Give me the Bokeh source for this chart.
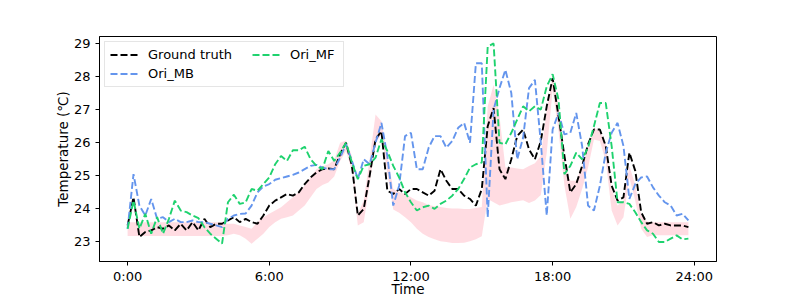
from bokeh.plotting import figure
from bokeh.models import Range1d, FixedTicker, Legend, LegendItem, ColumnDataSource
from bokeh.embed import file_html
from bokeh.resources import INLINE

# time of day in hours, 15-minute sampling
hours = [i / 4 for i in range(96)]

ground_truth = [
    23.5, 24.35, 23.15, 23.3, 23.35, 23.45, 23.4, 23.5, 23.35, 23.55,
    23.35, 23.6, 23.35, 23.7, 23.45, 23.55, 23.55, 23.65, 23.75, 23.6,
    23.7, 23.6, 23.55, 23.8, 24.1, 24.25, 24.35, 24.45, 24.4, 24.5,
    24.75, 24.95, 25.1, 25.2, 25.22, 25.2, 25.65, 26.0, 25.3, 23.8,
    24.0, 25.0, 26.1, 26.35, 24.55, 24.45, 24.6, 24.45, 24.6, 24.6,
    24.5, 24.4, 24.55, 25.2, 24.85, 24.6, 24.6, 24.4, 24.3, 24.1,
    24.6, 26.5, 27.05, 25.2, 24.9, 25.5, 26.2, 26.4, 25.8, 25.5,
    26.05, 27.1, 27.95, 26.8, 25.6, 24.5, 24.75, 25.3, 25.95, 26.4,
    26.4, 25.9, 24.7, 24.25, 24.35, 25.7, 25.15, 23.9, 23.55, 23.6,
    23.5, 23.55, 23.5, 23.5, 23.5, 23.45]

ori_mb = [
    23.4, 25.05, 24.1, 23.8, 24.3, 23.7, 23.75, 23.6, 23.7, 23.6,
    23.6, 23.65, 23.6, 23.6, 23.55, 23.5, 23.45, 23.7, 23.8, 23.85,
    23.86, 24.1, 24.5, 24.68, 24.75, 24.88, 24.93, 24.98, 25.03, 25.1,
    25.2, 25.3, 25.33, 25.25, 25.2, 25.2, 25.55, 25.95, 25.45, 24.9,
    25.5, 25.35, 26.0, 26.6, 25.6, 24.1, 24.7, 26.2, 26.3, 25.2,
    25.2, 25.85, 26.2, 26.2, 25.85, 26.05, 26.45, 26.6, 26.0, 28.4,
    28.4, 23.75, 27.0, 27.65, 28.2, 27.5, 25.5, 26.15, 27.65, 27.9,
    26.0, 23.8, 26.4, 26.9, 26.25, 26.3, 26.9, 25.9, 24.1, 23.95,
    24.7, 25.7, 26.3, 26.6, 25.9, 24.3, 24.75, 24.95, 24.98, 24.65,
    24.4, 24.2, 24.1, 23.8, 23.85, 23.65]

ori_mf = [
    23.4, 24.25, 23.4, 23.85, 23.25, 23.75, 23.25, 23.7, 24.25, 23.95,
    23.9, 23.8, 23.72, 23.45, 23.25, 23.1, 22.95, 24.2, 24.43, 24.15,
    24.2, 24.6, 24.55, 24.75, 24.95, 25.35, 25.6, 25.45, 25.77, 25.77,
    25.88, 25.5, 25.3, 25.2, 25.75, 25.45, 25.7, 26.0, 25.4, 24.9,
    25.3, 25.35, 25.55, 26.1, 25.75, 25.3, 24.95, 24.5, 24.2, 23.95,
    24.05, 24.1, 24.0, 24.15, 24.25, 24.4, 24.6, 24.9, 25.25, 25.35,
    25.4, 28.9, 29.0, 26.0, 25.95, 26.3, 26.7, 27.1, 26.95, 27.1,
    27.0, 27.7, 28.07, 27.3, 25.05, 25.3, 25.7, 25.5, 25.85, 26.5,
    27.2, 27.2, 25.9, 24.2, 24.2, 24.15, 23.9, 23.6, 23.35, 23.25,
    23.0, 23.0, 23.1, 23.2, 23.08, 23.1]

band_upper = [
    23.6, 23.6, 23.6, 23.6, 23.6, 23.6, 23.6, 23.6, 23.6, 23.6,
    23.6, 23.6, 23.6, 23.6, 23.6, 23.6, 23.6, 23.55, 23.55, 23.5,
    23.45, 23.4, 23.6, 23.75, 23.85, 23.95, 24.05, 24.2, 24.35, 24.5,
    24.7, 24.95, 25.2, 25.28, 25.35, 25.47, 26.0, 26.07, 25.6, 23.85,
    24.25, 25.5, 26.85, 26.65, 25.6, 24.6, 24.5, 24.45, 24.35, 24.25,
    24.2, 24.12, 24.08, 24.06, 24.03, 24.01, 24.01, 24.0, 24.0, 24.03,
    24.06, 27.1, 27.75, 26.8, 25.25, 25.25, 25.22, 25.2, 25.3, 25.38,
    25.6, 27.0, 28.0, 27.1, 25.4, 24.85, 24.85, 25.3, 25.85, 26.45,
    26.35, 26.0, 24.6, 24.1, 24.25, 25.3, 24.73, 23.8, 23.62, 23.6,
    23.6, 23.6, 23.6, 23.6, 23.6, 23.6]

band_lower = [
    23.18, 23.18, 23.18, 23.18, 23.18, 23.18, 23.18, 23.18, 23.18, 23.18,
    23.18, 23.18, 23.18, 23.18, 23.18, 23.18, 23.18, 23.2, 23.25, 23.2,
    23.1, 22.95, 23.1, 23.25, 23.45, 23.6, 23.7, 23.75, 23.8, 23.95,
    24.1, 24.35, 24.6, 24.72, 24.8, 24.98, 25.45, 25.75, 25.15, 23.5,
    23.6, 24.75, 26.0, 26.25, 25.1, 23.98, 23.88, 23.75, 23.6, 23.4,
    23.25, 23.15, 23.08, 23.02, 23.0, 22.97, 22.97, 22.98, 23.02, 23.08,
    23.17, 24.3, 24.2, 24.1, 24.15, 24.2, 24.23, 24.26, 24.18, 24.25,
    24.42, 25.7, 27.6, 26.35, 24.7, 23.7, 24.06, 24.6, 25.25, 26.1,
    26.05, 25.45, 23.95, 23.5, 23.75, 24.95, 24.24, 23.4, 23.15, 23.2,
    23.2, 23.2, 23.2, 23.2, 23.2, 23.2]

x_ticks = [0, 6, 12, 18, 24]
x_tick_labels = ["0:00", "6:00", "12:00", "18:00", "24:00"]
y_ticks = [23, 24, 25, 26, 27, 28, 29]

src = ColumnDataSource(dict(t=hours, gt=ground_truth, mb=ori_mb, mf=ori_mf,
                            hi=band_upper, lo=band_lower))

FONT = "DejaVu Sans"
DASH = "7 3"
LW = 1.9

p = figure(width=797, height=299, output_backend="svg", toolbar_location=None,
           x_range=Range1d(-1.19, 24.94), y_range=Range1d(22.41, 29.21),
           min_border_left=99, min_border_right=81, min_border_top=36,
           min_border_bottom=36)

p.background_fill_color = "white"
p.border_fill_color = "white"
p.outline_line_color = "black"
p.outline_line_width = 1
p.xgrid.visible = False
p.ygrid.visible = False

p.varea(x="t", y1="lo", y2="hi", source=src, fill_color="pink", fill_alpha=0.55)

r_gt = p.line("t", "gt", source=src, line_color="black", line_width=LW, line_dash=DASH)
r_mb = p.line("t", "mb", source=src, line_color="#6495ED", line_width=LW, line_dash=DASH)
r_mf = p.line("t", "mf", source=src, line_color="#1ed26e", line_width=LW, line_dash=DASH)


def style_legend(lg):
    lg.label_text_font = FONT
    lg.label_text_font_size = "13px"
    lg.label_text_color = "black"
    lg.glyph_width = 28
    lg.glyph_height = 13
    lg.label_height = 13
    lg.label_standoff = 10
    lg.spacing = 4
    lg.padding = 5


# first column (carries the frame of the whole legend box)
legend_a = Legend(items=[LegendItem(label="Ground truth", renderers=[r_gt]),
                         LegendItem(label="Ori_MB", renderers=[r_mb])],
                  location="top_left")
style_legend(legend_a)
legend_a.margin = 5
legend_a.label_width = 190
legend_a.border_line_color = "#cccccc"
legend_a.border_line_width = 1
legend_a.background_fill_alpha = 0.85
p.add_layout(legend_a, "center")

# second column
legend_b = Legend(items=[LegendItem(label="Ori_MF", renderers=[r_mf])],
                  location=(153, 199))
style_legend(legend_b)
legend_b.margin = 0
legend_b.border_line_color = None
legend_b.background_fill_alpha = 0
p.add_layout(legend_b, "center")

xa = p.xaxis[0]
xa.ticker = FixedTicker(ticks=x_ticks)
xa.major_label_overrides = {t: l for t, l in zip(x_ticks, x_tick_labels)}
xa.axis_label = "Time"
xa.major_label_standoff = 3
xa.axis_label_standoff = -6

ya = p.yaxis[0]
ya.ticker = FixedTicker(ticks=y_ticks)
ya.axis_label = "Temperature (℃)"
ya.major_label_standoff = 5
ya.axis_label_standoff = 0

for ax in (xa, ya):
    ax.minor_tick_line_color = None
    ax.major_tick_in = 0
    ax.major_tick_out = 4
    ax.major_tick_line_color = "black"
    ax.axis_line_color = "black"
    ax.major_label_text_font = FONT
    ax.major_label_text_font_size = "13px"
    ax.major_label_text_color = "black"
    ax.axis_label_text_font = FONT
    ax.axis_label_text_font_size = "13.5px"
    ax.axis_label_text_font_style = "normal"
    ax.axis_label_text_color = "black"

open("out.html", "w").write(file_html(p, INLINE))
